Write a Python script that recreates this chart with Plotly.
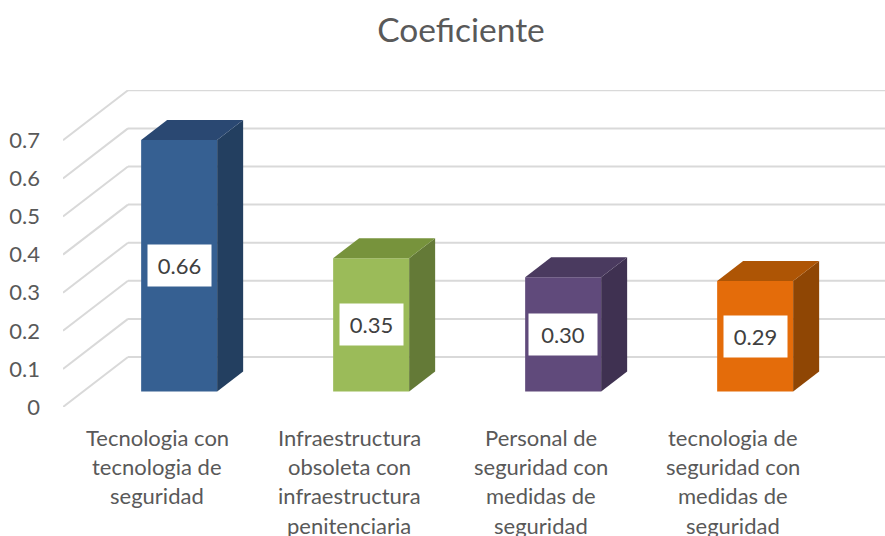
import plotly.graph_objects as go

title = "Coeficiente"
categories = [
    ["Tecnologia con", "tecnologia de", "seguridad"],
    ["Infraestructura", "obsoleta con", "infraestructura", "penitenciaria"],
    ["Personal de", "seguridad con", "medidas de", "seguridad"],
    ["tecnologia de", "seguridad con", "medidas de", "seguridad"],
]
values = [0.66, 0.35, 0.30, 0.29]
value_labels = ["0.66", "0.35", "0.30", "0.29"]
y_ticks = [0, 0.1, 0.2, 0.3, 0.4, 0.5, 0.6, 0.7]
y_tick_labels = ["0", "0.1", "0.2", "0.3", "0.4", "0.5", "0.6", "0.7"]
front_colors = ["#366092", "#9bbb59", "#604a7b", "#e46c0a"]
side_colors = ["#233f60", "#647a37", "#3f3151", "#8f4604"]
top_colors = ["#2a4872", "#77933c", "#4a3a5f", "#ae5505"]
box_widths = [61, 61, 66, 61]

W, H = 885, 536
M_L, M_R, M_T, M_B = 63, 0, 90, 129
PX_PER_SLOT = 192
PX_PER_UNIT = 381
FONT = "Lato"
TEXT = "#595959"

# oblique projection: a full unit of depth moves this far on the axes
DX = 65 / PX_PER_SLOT
DY = 50 / PX_PER_UNIT
D_FRONT = 0.31
D_BACK = 0.71
BAR_W = 76 / PX_PER_SLOT
x_lo = -0.5
x_hi = x_lo + (W - M_L - M_R) / PX_PER_SLOT
y_hi = (H - M_T - M_B) / PX_PER_UNIT

fig = go.Figure()

# gridlines: side wall diagonal, then back wall, below the bars
shapes = []
for v in y_ticks:
    shapes.append(dict(type="line", xref="x", yref="y", layer="below",
                       x0=x_lo, y0=v, x1=x_lo + DX, y1=v + DY,
                       line=dict(color="#d9d9d9", width=2)))
    shapes.append(dict(type="line", xref="x", yref="y", layer="below",
                       x0=x_lo + DX, y0=v + DY, x1=x_hi, y1=v + DY,
                       line=dict(color="#d9d9d9", width=2)))

# front faces
fig.add_trace(go.Bar(
    x=[i + D_FRONT * DX for i in range(len(values))],
    y=values,
    base=[D_FRONT * DY] * len(values),
    width=BAR_W,
    marker=dict(color=front_colors, line=dict(width=0)),
    hoverinfo="skip",
))

# side and top faces
for i, v in enumerate(values):
    xl = i + D_FRONT * DX - BAR_W / 2
    xr = i + D_FRONT * DX + BAR_W / 2
    yb = D_FRONT * DY
    yt = v + D_FRONT * DY
    ox = (D_BACK - D_FRONT) * DX
    oy = (D_BACK - D_FRONT) * DY
    fig.add_trace(go.Scatter(
        x=[xr, xr + ox, xr + ox, xr, xr], y=[yb, yb + oy, yt + oy, yt, yb],
        mode="lines", fill="toself", fillcolor=side_colors[i],
        line=dict(width=0, color=side_colors[i]), hoverinfo="skip"))
    fig.add_trace(go.Scatter(
        x=[xl, xr, xr + ox, xl + ox, xl], y=[yt, yt, yt + oy, yt + oy, yt],
        mode="lines", fill="toself", fillcolor=top_colors[i],
        line=dict(width=0, color=top_colors[i]), hoverinfo="skip"))

annotations = []
# value labels in white boxes
for i, v in enumerate(values):
    annotations.append(dict(
        x=i + D_FRONT * DX, y=v / 2 + D_FRONT * DY, xref="x", yref="y",
        text=value_labels[i], showarrow=False, bgcolor="#ffffff",
        width=box_widths[i], height=39, align="center", valign="middle",
        font=dict(family=FONT, size=22, color="#404040")))

# category labels, one line at a time for the 29.6 px leading
for i, lines in enumerate(categories):
    for j, line in enumerate(lines):
        annotations.append(dict(
            x=i, y=0, xref="x", yref="paper", xanchor="center", yanchor="middle",
            xshift=-2, yshift=-(30 + j * 29.4),
            text=line, showarrow=False,
            font=dict(family=FONT, size=22, color=TEXT)))

fig.update_layout(
    width=W, height=H,
    margin=dict(l=M_L, r=M_R, t=M_T, b=M_B, pad=0),
    paper_bgcolor="#ffffff", plot_bgcolor="rgba(0,0,0,0)",
    showlegend=False, barmode="overlay",
    title=dict(text=title, x=461 / W, xanchor="center", y=1 - 30 / H, yanchor="middle",
               font=dict(family=FONT, size=33.5, color=TEXT)),
    xaxis=dict(range=[x_lo, x_hi], showgrid=False, zeroline=False, showline=False,
               showticklabels=False, ticks="", fixedrange=True),
    yaxis=dict(range=[0, y_hi], showgrid=False, zeroline=False, showline=False,
               tickmode="array", tickvals=y_ticks, ticktext=y_tick_labels,
               ticks="", ticklabelstandoff=22, fixedrange=True,
               tickfont=dict(family=FONT, size=22, color=TEXT)),
    shapes=shapes,
    annotations=annotations,
)

fig.write_html("out.html", config={"displayModeBar": False},
               post_script="document.body.style.margin='0';")
